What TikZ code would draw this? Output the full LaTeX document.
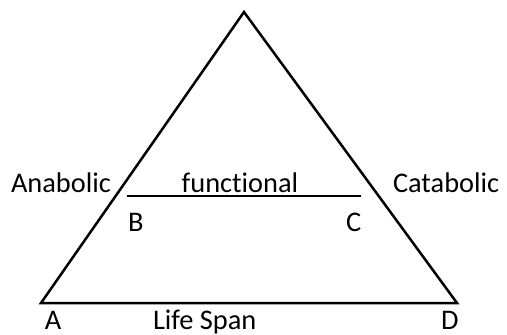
\documentclass[tikz,border=0pt]{standalone}
\usepackage{fontspec}
\setmainfont[Ligatures={NoCommon,NoContextual}]{Carlito}
\begin{document}
\begin{tikzpicture}[x=1pt,y=-1pt,
  lbl/.style={inner sep=0pt,outer sep=0pt,anchor=base west,font=\fontsize{28.4}{34}\selectfont},
  edge/.style={line width=2.5pt,line join=miter}]
\useasboundingbox (0,0) rectangle (507,335);
\coordinate (pA) at (41,303);
\coordinate (pT) at (244,12);
\coordinate (pD) at (457,303);
\coordinate (pB) at (127,196);
\coordinate (pC) at (361,196);
\draw[edge] (pA) -- (pT) -- (pD) -- cycle;
\draw[edge] (pB) -- (pC);
\node[lbl] (anab) at (11,192) {Anabolic};
\node[lbl,anchor=base] (func) at (240,192) {functional};
\node[lbl] (catab) at (393,192) {Catabolic};
\node[lbl] (B) at (128,231) {B};
\node[lbl] (C) at (346,231) {C};
\node[lbl] (A) at (45,329) {A};
\node[lbl] (life) at (153,329) {Life Span};
\node[lbl] (D) at (441,329) {D};
\end{tikzpicture}
\end{document}
